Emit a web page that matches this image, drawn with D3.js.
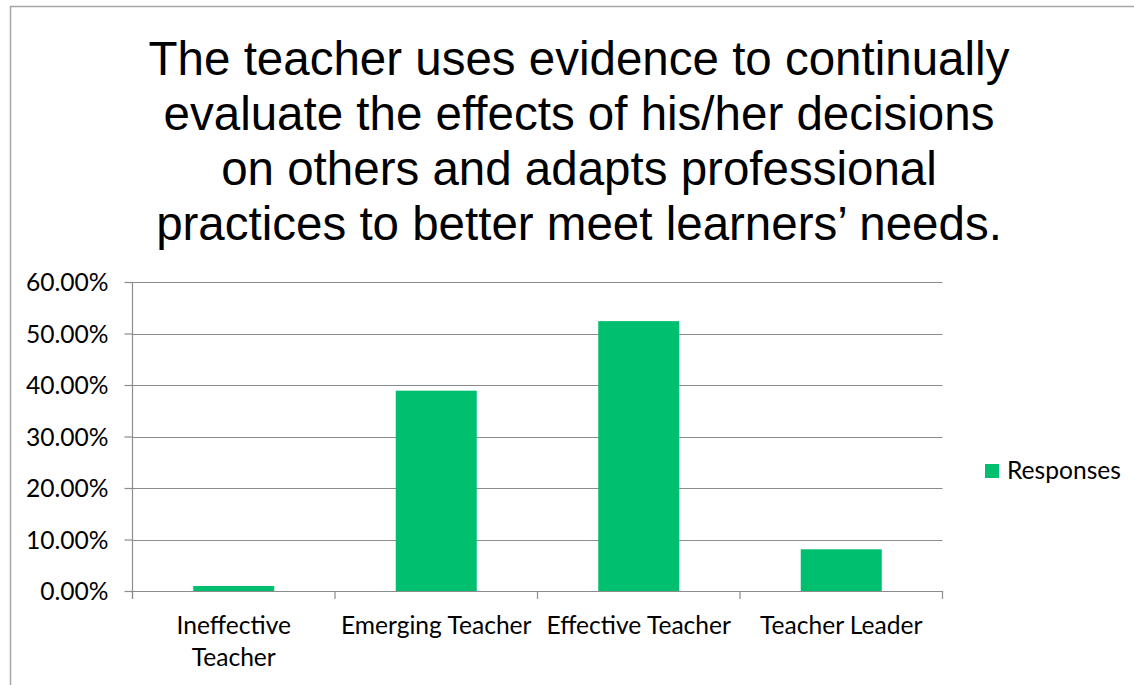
<!DOCTYPE html>
<html lang="en">
<head>
  <meta charset="UTF-8">
  <title>Teacher uses evidence - Responses</title>
  <script src="https://d3js.org/d3.v7.min.js"></script>
  <style>
    body { margin: 0; background: #fff; }
    .title { font-family: "Liberation Sans", Arial, sans-serif; font-size: 47.5px; fill: #000; }
    .lbl { font-family: Lato, "Open Sans", sans-serif; font-size: 24.6px; fill: #000; }
  </style>
</head>
<body>
  <svg width="1134" height="685"></svg>
  <script>
    const titleLines = [
      "The teacher uses evidence to continually",
      "evaluate the effects of his/her decisions",
      "on others and adapts professional",
      "practices to better meet learners\u2019 needs."
    ];
    const categories = [["Ineffective", "Teacher"], ["Emerging Teacher"], ["Effective Teacher"], ["Teacher Leader"]];
    const responses = [0.0097, 0.389, 0.524, 0.081];
    const yTicks = [0, 0.1, 0.2, 0.3, 0.4, 0.5, 0.6];
    const seriesName = "Responses";

    const svg = d3.select("svg");
    const plotL = 132.5, plotR = 942.5, plotT = 282, plotB = 591;
    const green = "#00bf6f", grid = "#8c8c8c";

    // outer frame
    svg.append("path")
      .attr("d", "M10.5,690 V6.5 H1140")
      .attr("fill", "none").attr("stroke", "#a6a6a6").attr("stroke-width", 1.5);

    // title
    svg.append("text").attr("class", "title").attr("text-anchor", "middle")
      .selectAll("tspan").data(titleLines).enter().append("tspan")
      .attr("x", 579).attr("y", (d, i) => 75 + i * 55).text(d => d);

    const x = d3.scaleBand().domain(d3.range(categories.length))
      .range([plotL, plotR]).paddingInner(0.6).paddingOuter(0.3);
    const y = d3.scaleLinear().domain([0, 0.6]).range([plotB, plotT]);

    // gridlines
    svg.append("g").selectAll("line").data(yTicks.slice(1)).enter().append("line")
      .attr("x1", plotL).attr("x2", plotR)
      .attr("y1", d => Math.round(y(d)) + 0.5).attr("y2", d => Math.round(y(d)) + 0.5)
      .attr("stroke", grid).attr("stroke-width", 1.2);

    // y axis
    const yAxis = svg.append("g").attr("transform", `translate(${plotL},0)`)
      .call(d3.axisLeft(y).tickValues(yTicks).tickFormat(d3.format(".2%")).tickSize(8).tickPadding(16));
    yAxis.select(".domain").attr("stroke", grid).attr("stroke-width", 1.2).attr("d", `M0,${plotT}V${plotB + 8}`);
    yAxis.selectAll(".tick line").attr("stroke", grid).attr("stroke-width", 1.2);
    yAxis.selectAll(".tick text").attr("class", "lbl").attr("fill", "#000").attr("dy", "0.36em");
    yAxis.attr("font-family", null).attr("font-size", null);

    // bars
    svg.append("g").selectAll("rect").data(responses).enter().append("rect")
      .attr("x", (d, i) => x(i)).attr("width", x.bandwidth())
      .attr("y", d => y(d)).attr("height", d => y(0) - y(d))
      .attr("fill", green);

    // x axis line and category boundary ticks
    const step = x.step();
    svg.append("line").attr("x1", plotL).attr("x2", plotR)
      .attr("y1", plotB + 0.5).attr("y2", plotB + 0.5)
      .attr("stroke", grid).attr("stroke-width", 1.2);
    svg.append("g").selectAll("line").data(d3.range(categories.length + 1)).enter().append("line")
      .attr("x1", i => plotL + i * step).attr("x2", i => plotL + i * step)
      .attr("y1", plotB).attr("y2", plotB + 8)
      .attr("stroke", grid).attr("stroke-width", 1.2);

    // category labels
    const cat = svg.append("g").selectAll("text").data(categories).enter().append("text")
      .attr("class", "lbl").attr("text-anchor", "middle");
    cat.selectAll("tspan").data((d, i) => d.map(t => ({t, i}))).enter().append("tspan")
      .attr("x", d => x(d.i) + x.bandwidth() / 2)
      .attr("y", (d, j) => 634 + j * 32)
      .text(d => d.t);

    // legend
    svg.append("rect").attr("x", 985).attr("y", 464).attr("width", 14).attr("height", 14).attr("fill", green);
    svg.append("text").attr("class", "lbl").attr("x", 1007).attr("y", 479).text(seriesName);
  </script>
</body>
</html>
